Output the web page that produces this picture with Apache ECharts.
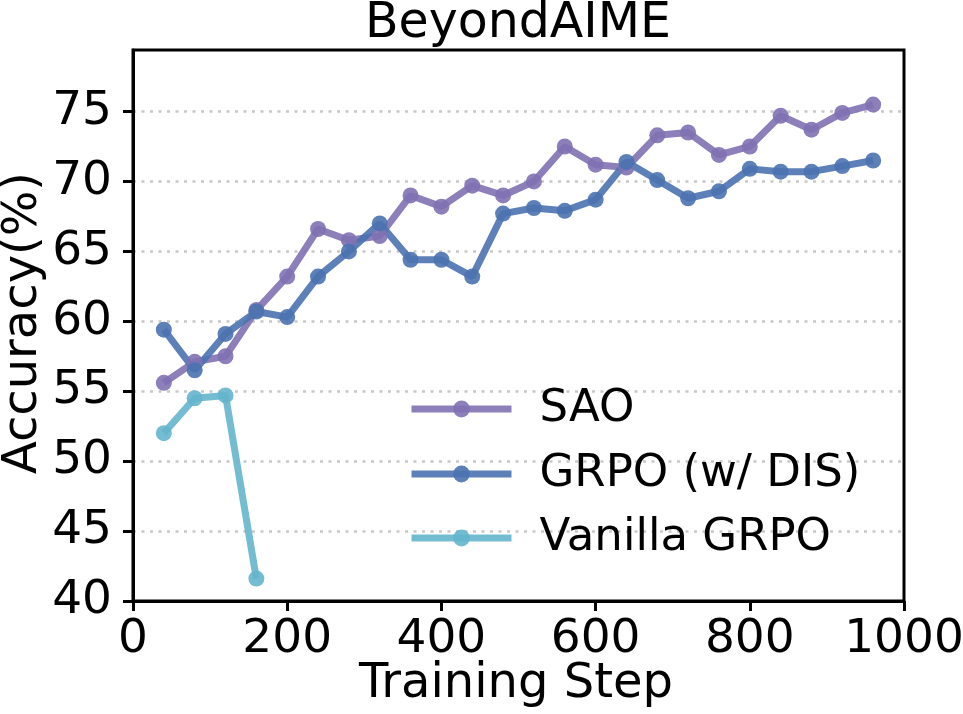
<!DOCTYPE html>
<html>
<head>
<meta charset="utf-8">
<script src="https://cdn.jsdelivr.net/npm/echarts@6/dist/echarts.min.js"></script>
<style>
html,body{margin:0;padding:0;background:#fff;}
#chart{width:963px;height:714px;}
</style>
</head>
<body>
<div id="chart"></div>
<script>
const steps = [40, 80, 120, 160, 200, 240, 280, 320, 360, 400, 440, 480, 520, 560, 600, 640, 680, 720, 760, 800, 840, 880, 920, 960];
const saoValues = [55.6, 57.1, 57.5, 60.8, 63.2, 66.6, 65.8, 66.1, 69.0, 68.2, 69.7, 69.0, 70.0, 72.5, 71.2, 71.0, 73.3, 73.5, 71.9, 72.5, 74.7, 73.7, 74.9, 75.5];
const grpoDisValues = [59.4, 56.5, 59.1, 60.7, 60.3, 63.2, 65.0, 67.0, 64.4, 64.4, 63.2, 67.7, 68.1, 67.9, 68.7, 71.4, 70.1, 68.8, 69.3, 70.9, 70.7, 70.7, 71.1, 71.5];
const vanillaSteps = [40, 80, 120, 160];
const vanillaValues = [52.0, 54.5, 54.7, 41.6];
const yTicks = [40, 45, 50, 55, 60, 65, 70, 75];
const xTicks = [0, 200, 400, 600, 800, 1000];
const seriesNames = ['SAO', 'GRPO (w/ DIS)', 'Vanilla GRPO'];
const colors = ['#8172B3', '#4C72B0', '#64B5CD'];

const pairs = (xs, ys) => xs.map((x, i) => [x, ys[i]]);
const FONT = '"DejaVu Sans", sans-serif';

const chart = echarts.init(document.getElementById('chart'), null, {renderer: 'canvas'});

function mkSeries(name, data, color) {
  return {
    name: name, type: 'line', data: data,
    symbol: 'circle', symbolSize: 16,
    lineStyle: {width: 7, color: color, opacity: 0.9},
    itemStyle: {color: color, opacity: 0.9},
    emphasis: {disabled: true},
    animation: false
  };
}

function mkLegend(name, top) {
  return {
    data: [name], left: 408, top: top, padding: 0,
    itemWidth: 100, itemHeight: 21,
    lineStyle: {width: 7, opacity: 0.9},
    textStyle: {fontFamily: FONT, fontSize: 45, color: '#000', lineHeight: 50, padding: [0, 0, 0, 23]}
  };
}

chart.setOption({
  animation: false,
  color: colors,
  grid: {left: 133, right: 59, top: 50, bottom: 113, show: true, borderColor: '#000', borderWidth: 3,
         backgroundColor: 'transparent', outerBoundsMode: 'none', containLabel: false},
  legend: [mkLegend(seriesNames[0], 384), mkLegend(seriesNames[1], 449), mkLegend(seriesNames[2], 513)],
  xAxis: {
    type: 'value', min: 0, max: 1000, interval: 200,
    axisLine: {show: true, lineStyle: {color: '#000', width: 3}},
    axisTick: {show: true, inside: false, length: 10, lineStyle: {color: '#000', width: 3}},
    axisLabel: {fontFamily: FONT, fontSize: 47, color: '#000', margin: 15, customValues: xTicks,
                formatter: v => String(v)},
    splitLine: {show: false}
  },
  yAxis: {
    type: 'value', min: 40, max: 79.4, interval: 5,
    axisLine: {show: true, lineStyle: {color: '#000', width: 3}},
    axisTick: {show: true, inside: false, length: 10, lineStyle: {color: '#000', width: 3}, customValues: yTicks},
    axisLabel: {fontFamily: FONT, fontSize: 47, color: '#000', margin: 21, customValues: yTicks,
                formatter: v => String(v)},
    splitLine: {show: true, lineStyle: {color: '#c8c8c8', width: 2.5, type: [3, 5.5]}}
  },
  graphic: [
    {type: 'text', x: 518, y: 24, style: {text: 'BeyondAIME', fontFamily: FONT, fontSize: 49, fill: '#000', align: 'center', verticalAlign: 'middle'}},
    {type: 'text', x: 516, y: 685, style: {text: 'Training Step', fontFamily: FONT, fontSize: 48, fill: '#000', align: 'center', verticalAlign: 'middle'}},
    {type: 'text', x: 24, y: 323, rotation: Math.PI / 2, style: {text: 'Accuracy(%)', fontFamily: FONT, fontSize: 48, fill: '#000', align: 'center', verticalAlign: 'middle'}}
  ],
  series: [
    mkSeries(seriesNames[0], pairs(steps, saoValues), colors[0]),
    mkSeries(seriesNames[1], pairs(steps, grpoDisValues), colors[1]),
    mkSeries(seriesNames[2], pairs(vanillaSteps, vanillaValues), colors[2])
  ]
});
</script>
</body>
</html>
